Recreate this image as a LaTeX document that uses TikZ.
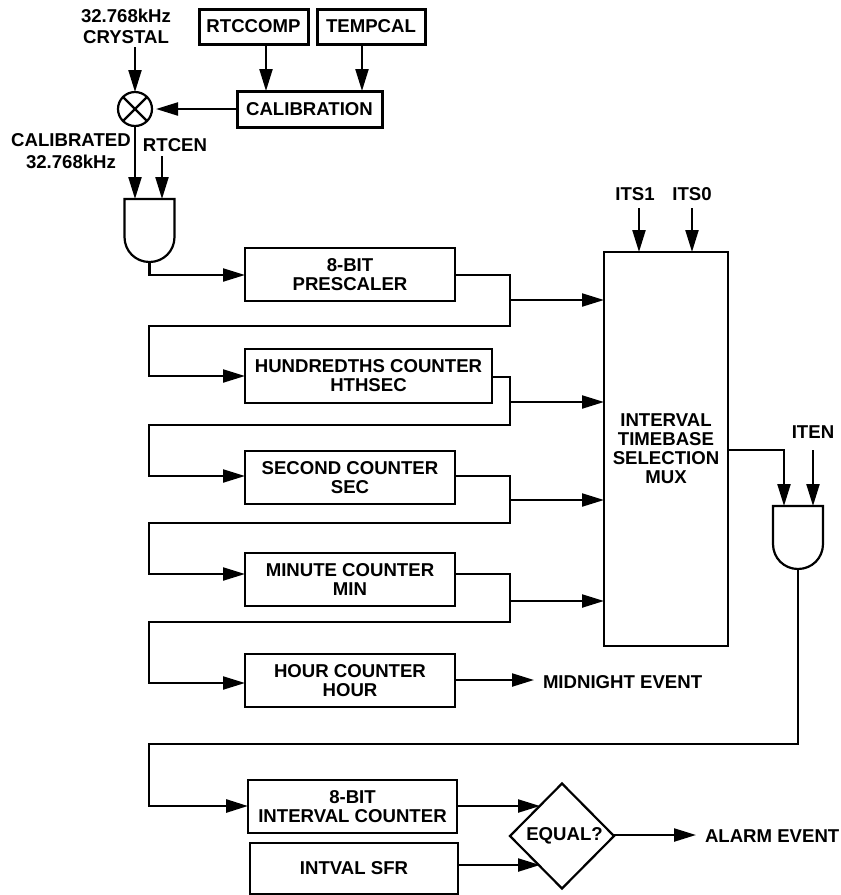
\documentclass[tikz,border=0pt]{standalone}
\usepackage{fontspec}
\setmainfont{Liberation Sans}
\usetikzlibrary{arrows.meta,shapes.geometric,calc}
\tikzset{
  lbl/.style={font=\fontsize{18.6}{19}\selectfont\bfseries,align=center,inner sep=0pt,outer sep=0pt},
  blk/.style={lbl,draw,line width=2.2pt,rectangle},
  thk/.style={lbl,draw,line width=3pt,rectangle},
  wire/.style={line width=2.2pt,line join=miter},
  arr/.style={wire,-{Triangle[length=22pt,width=13pt]}},
  gatebox/.style={rectangle,inner sep=0pt,outer sep=0pt,minimum width=50pt,minimum height=63pt},
  gateline/.style={line width=2.2pt,line join=miter}
}
\newcommand{\boxat}[7]{\node[#1,minimum width=#5pt-#3pt,minimum height=#6pt-#4pt] (#2) at ({(#3+#5)/2},{(#4+#6)/2}) {#7};}
\begin{document}
\begin{tikzpicture}[x=1pt,y=-1pt]
\useasboundingbox (0,0) rectangle (841,895);
% boxes
\boxat{thk}{rtccomp}{199}{9}{308}{44}{RTCCOMP}
\boxat{thk}{tempcal}{317}{9}{425}{44}{TEMPCAL}
\boxat{thk}{calib}{237}{91}{382}{127}{CALIBRATION}
\boxat{blk}{presc}{245}{248}{455}{301}{8-BIT\\PRESCALER}
\boxat{blk}{hund}{245}{349}{492}{403}{HUNDREDTHS COUNTER\\HTHSEC}
\boxat{blk}{sec}{245}{451}{455}{504}{SECOND COUNTER\\SEC}
\boxat{blk}{minc}{245}{553}{455}{606}{MINUTE COUNTER\\MIN}
\boxat{blk}{hour}{245}{654}{455}{707}{HOUR COUNTER\\HOUR}
\boxat{blk}{intc}{248}{780}{457}{833}{8-BIT\\INTERVAL COUNTER}
\boxat{blk}{intv}{250}{843}{458}{894}{\raisebox{-2pt}{INTVAL SFR}}
\boxat{blk}{mux}{604}{252}{728}{646}{INTERVAL\\TIMEBASE\\SELECTION\\MUX}
% multiplier
\node[circle,draw,line width=2.2pt,minimum size=34pt,inner sep=0pt,outer sep=0pt] (mult) at (135,109) {};
\draw[line width=2.2pt] (mult.45) -- (mult.225) (mult.135) -- (mult.315);
% gates
\node[gatebox] (and1) at (149.5,230.5) {};
\draw[gateline] ($(and1.north west)+(0,38)$) -- (and1.north west) -- (and1.north east) -- ($(and1.north east)+(0,38)$)
  .. controls +(0,14) and ($(and1.south)+(14,0)$) .. (and1.south)
  .. controls ($(and1.south)+(-14,0)$) and ($(and1.north west)+(0,52)$) .. ($(and1.north west)+(0,38)$) -- cycle;
\node[gatebox] (and2) at (798,537.5) {};
\draw[gateline] ($(and2.north west)+(0,38)$) -- (and2.north west) -- (and2.north east) -- ($(and2.north east)+(0,38)$)
  .. controls +(0,14) and ($(and2.south)+(14,0)$) .. (and2.south)
  .. controls ($(and2.south)+(-14,0)$) and ($(and2.north west)+(0,52)$) .. ($(and2.north west)+(0,38)$) -- cycle;
% diamond
\node[diamond,aspect=1,draw,line width=2.2pt,minimum width=104pt,minimum height=105pt,inner sep=0pt,outer sep=0pt,font=\fontsize{18.6}{19}\selectfont\bfseries] (eq) at (562,836) {\hspace{5pt}EQUAL?};
% text labels
\node[lbl] (xtal) at (126,26) {32.768kHz\\[2pt]CRYSTAL};
\node[lbl] (cal32) at (71,151) {CALIBRATED\\[3pt]32.768kHz};
\node[lbl] (rtcen) at (175,145) {RTCEN};
\node[lbl] (its1) at (635,194) {ITS1};
\node[lbl] (its0) at (692,194) {ITS0};
\node[lbl] (iten) at (813,432) {ITEN};
\node[lbl,anchor=west] (midn) at (543,682) {MIDNIGHT EVENT};
\node[lbl,anchor=west] (alarm) at (705,836) {ALARM EVENT};
% free ends and junctions
\coordinate (xin) at (135,47);
\coordinate (rin) at (162,156);
\coordinate (i1) at (639,208);
\coordinate (i0) at (692,208);
\coordinate (ien) at (813,450);
\coordinate (c1) at (266,44);
\coordinate (c2) at (362,44);
\coordinate (j1) at (510,300);
\coordinate (j2) at (510,402);
\coordinate (j3) at (510,500);
\coordinate (j4) at (510,601);
\coordinate (r1) at (510,326);
\coordinate (r2) at (510,425);
\coordinate (r3) at (510,523);
\coordinate (r4) at (510,622);
\coordinate (midt) at (534,680);
\coordinate (alt) at (696,835);
\coordinate (busx) at (784,450);
\coordinate (lx) at (149,744);
\coordinate (e1) at (540,806);
\coordinate (e2) at (540,865);
% top connectors
\draw[arr] (xin) -- (mult.north);
\draw[arr] (c1) -- (calib.north -| c1);
\draw[arr] (c2) -- (calib.north -| c2);
\draw[arr,shorten >=4pt] (calib.west) -- (mult.east);
\draw[arr] (mult.south) -- (and1.north -| mult.south);
\draw[arr] (rin) -- (and1.north -| rin);
\draw[arr] (and1.south) |- ($(presc.west)+(0,0.5)$);
% counter chain
\draw[arr] ($(presc.east)+(0,0.5)$) -| (r1) -- (149,326) |- (hund.west);
\draw[arr] ($(hund.east)+(0,1)$) -| (r2) -- (149,425) |- ($(sec.west)+(0,-1.5)$);
\draw[arr] ($(sec.east)+(0,-1.5)$) -| (r3) -- (149,523) |- ($(minc.west)+(0,-5.5)$);
\draw[arr] ($(minc.east)+(0,-5.5)$) -| (r4) -- (149,622) |- ($(hour.west)+(0,2.5)$);
\draw[arr] (j1) -- (mux.west |- j1);
\draw[arr] (j2) -- (mux.west |- j2);
\draw[arr] (j3) -- (mux.west |- j3);
\draw[arr] (j4) -- (mux.west |- j4);
\draw[arr] (hour.east |- midt) -- (midt);
% mux
\draw[arr] (i1) -- (mux.north -| i1);
\draw[arr] (i0) -- (mux.north -| i0);
\draw[arr] (mux.east |- busx) -- (busx) -- (and2.north -| busx);
\draw[arr] (ien) -- (and2.north -| ien);
% interval
\draw[arr,line width=2.8pt] (and2.south) |- (lx) |- ($(intc.west)+(0,-0.5)$);
\draw[arr] (intc.east |- e1) -- (e1);
\draw[arr] (intv.east |- e2) -- (e2);
\draw[arr] (eq.east |- alt) -- (alt);
\end{tikzpicture}
\end{document}
